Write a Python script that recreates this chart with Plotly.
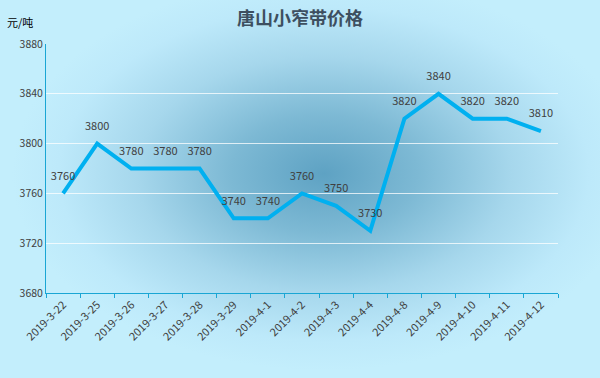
import base64
import plotly.graph_objects as go

dates = ["2019-3-22", "2019-3-25", "2019-3-26", "2019-3-27", "2019-3-28", "2019-3-29",
         "2019-4-1", "2019-4-2", "2019-4-3", "2019-4-4", "2019-4-8", "2019-4-9",
         "2019-4-10", "2019-4-11", "2019-4-12"]
prices = [3760, 3800, 3780, 3780, 3780, 3740, 3740, 3760, 3750, 3730, 3820, 3840, 3820, 3820, 3810]
y_ticks = [3680, 3720, 3760, 3800, 3840, 3880]

svg = """<svg xmlns='http://www.w3.org/2000/svg' width='600' height='378' viewBox='0 0 600 378' preserveAspectRatio='none'>
<defs><radialGradient id='g' cx='0.54' cy='0.46' r='0.52'>
<stop offset='0' stop-color='#5ea2c3'/>
<stop offset='0.3' stop-color='#7db9d4'/>
<stop offset='0.6' stop-color='#a6d7ec'/>
<stop offset='0.85' stop-color='#bde9fa'/>
<stop offset='1' stop-color='#c3eefc'/>
</radialGradient></defs>
<rect width='600' height='378' fill='#c3eefc'/>
<rect width='600' height='378' fill='url(#g)'/>
</svg>"""
uri = "data:image/svg+xml;base64," + base64.b64encode(svg.encode()).decode()

L, R, T, B = 46, 42, 44, 85
W, H = 600, 378
pw, ph = W - L - R, H - T - B

fig = go.Figure()
fig.add_trace(go.Scatter(
    x=dates, y=prices, mode="lines+markers+text",
    line=dict(color="#00b0f0", width=4),
    marker=dict(size=16, color="rgba(0,0,0,0)"),
    text=[str(v) for v in prices], textposition="top center",
    textfont=dict(family="Noto Sans CJK SC", size=11, color="#404040"),
    cliponaxis=False, hoverinfo="skip",
))

fig.update_layout(
    width=W, height=H,
    margin=dict(l=L, r=R, t=T, b=B, autoexpand=False),
    paper_bgcolor="#c3eefc", plot_bgcolor="rgba(0,0,0,0)",
    showlegend=False,
    title=dict(text="<b>唐山小窄带价格</b>", x=0.5, xanchor="center", y=1 - 19 / H, yanchor="middle",
               font=dict(family="Noto Sans CJK SC", size=18, color="#3d4f60")),
    images=[dict(source=uri, xref="paper", yref="paper",
                 x=-L / pw, y=1 + T / ph, sizex=W / pw, sizey=H / ph,
                 xanchor="left", yanchor="top", sizing="stretch", layer="below")],
    annotations=[dict(text="元/吨", xref="paper", yref="paper", x=-L / pw + 5 / pw, y=1 + 22 / ph,
                      xanchor="left", yanchor="middle", showarrow=False,
                      font=dict(family="Noto Sans CJK SC", size=11, color="#000000"))],
    font=dict(family="Noto Sans CJK SC", size=10, color="#404040"),
)
fig.update_xaxes(
    type="category", range=[-0.5, len(dates) - 0.5], tickangle=-45, showgrid=False, automargin=False,
    showline=True, linecolor="#1aa6d4", linewidth=1,
    ticks="outside", tickson="boundaries", ticklen=4, tickcolor="#1aa6d4",
    tickfont=dict(size=11, color="#404040"),
)
fig.update_yaxes(
    range=[3680, 3880], tickvals=y_ticks, showgrid=True, gridcolor="rgba(255,255,255,0.75)",
    gridwidth=1, showline=True, linecolor="#1aa6d4", linewidth=1, zeroline=False, automargin=False,
    tickfont=dict(size=10.5, color="#404040"), ticks="",
)
fig.write_html("out.html", config={"displayModeBar": False, "staticPlot": True},
               post_script="document.body.style.margin='0';document.body.style.overflow='hidden';")
